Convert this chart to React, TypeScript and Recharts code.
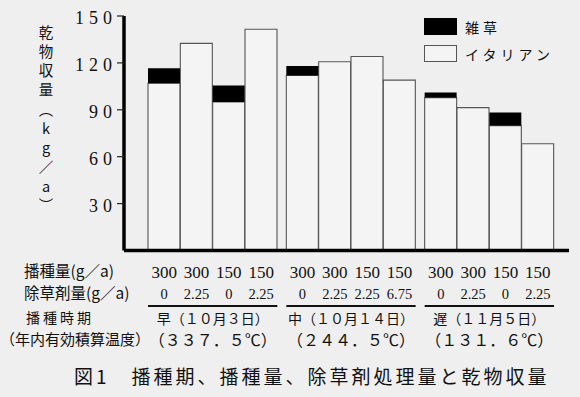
import React from 'react';
import { BarChart, Bar, XAxis, YAxis, Legend, Label } from 'recharts';

// ---- data ----
const seedingRate = ['300', '300', '150', '150', '300', '300', '150', '150', '300', '300', '150', '150'];
const herbicide = ['0', '2.25', '0', '2.25', '0', '2.25', '2.25', '6.75', '0', '2.25', '0', '2.25'];
const groupOf = [0, 0, 0, 0, 1, 1, 1, 1, 2, 2, 2, 2];
const groupLabels = ['早（１０月３日）', '中（１０月１４日）', '遅（１１月５日）'];
const groupTemps = ['（３３７．５℃）', '（２４４．５℃）', '（１３１．６℃）'];
const italian = [107, 132.5, 95, 141.5, 112, 120.7, 124.1, 109, 97.8, 91.4, 79.9, 68.3];
const weeds = [9.5, 0, 10.5, 0, 6, 0, 0, 0, 3.2, 0, 8.3, 0];
const yTicks = [30, 60, 90, 120, 150];
const seriesNames = { italian: 'イタリアン', weed: '雑草' };

// ---- layout constants ----
const W = 580;
const H = 397;
const PLOT_LEFT = 124;
const PLOT_RIGHT = 569;
const PLOT_TOP = 16;
const PLOT_BOTTOM = 250.5;
const GAP = 0.278; // gap between groups, in bar widths
const X_MIN = -1.242;
const X_MAX = 12.52;
const UNIT_PX = (PLOT_RIGHT - PLOT_LEFT) / (X_MAX - X_MIN);

const barPos = seedingRate.map((_, i) => i + groupOf[i] * GAP);
const groupCenters = groupLabels.map((_, g) => {
  const ps = barPos.filter((_, i) => groupOf[i] === g);
  return (ps[0] + ps[ps.length - 1]) / 2;
});

const data = seedingRate.map((s, i) => ({
  pos: barPos[i],
  italian: italian[i],
  weed: weeds[i],
}));

const JP = '"Noto Sans CJK JP", "Noto Sans", sans-serif';
const SERIF = '"Liberation Serif", "DejaVu Serif", serif';

const findIdx = (arr: number[], v: number) => arr.findIndex((a) => Math.abs(a - v) < 1e-6);

const XTick = (props: any) => {
  const { x, payload } = props;
  const v = payload.value;
  const bi = findIdx(barPos, v);
  if (bi >= 0) {
    return (
      <g>
        <text x={x} y={272} textAnchor="middle" dominantBaseline="central" fontFamily={SERIF} fontSize={17} fill="#111">
          {seedingRate[bi]}
        </text>
        <text x={x} y={294} textAnchor="middle" dominantBaseline="central" fontFamily={SERIF} fontSize={14.5} fill="#111">
          {herbicide[bi]}
        </text>
      </g>
    );
  }
  const gi = findIdx(groupCenters, v);
  if (gi >= 0) {
    return (
      <g>
        <line x1={x - 2 * UNIT_PX} x2={x + 2 * UNIT_PX} y1={306} y2={306} stroke="#111" strokeWidth={2} />
        <text x={x} y={318} textAnchor="middle" dominantBaseline="central" fontFamily={JP} fontSize={14} fill="#111">
          {groupLabels[gi]}
        </text>
        <text x={x} y={339} textAnchor="middle" dominantBaseline="central" fontFamily={JP} fontSize={16} fill="#111">
          {groupTemps[gi]}
        </text>
      </g>
    );
  }
  return null;
};

const YTick = (props: any) => {
  const { x, y, payload } = props;
  return (
    <text x={x + 2} y={y + 2} textAnchor="end" dominantBaseline="central" fontFamily={SERIF} fontSize={18} letterSpacing={5} fill="#111">
      {payload.value}
    </text>
  );
};

const yLabelChars = ['乾', '物', '収', '量', '︵', 'k', 'g', '／', 'a', '︶'];
const YLabel = () => (
  <g>
    {yLabelChars.map((c, i) => (
      <text key={i} x={46} y={31 + i * 19.3} textAnchor="middle" dominantBaseline="central" fontFamily={JP} fontSize={14.5} fill="#111">
        {c}
      </text>
    ))}
  </g>
);

const LegendContent = (props: any) => {
  const items = [...(props.payload || [])].reverse();
  return (
    <div>
      {items.map((it: any, i: number) => (
        <div key={i} style={{ display: 'flex', alignItems: 'center', height: 27 }}>
          <div
            style={{
              width: 33,
              height: 17,
              boxSizing: 'border-box',
              background: it.payload.fill,
              border: '1.2px solid ' + (it.payload.fill === '#000000' ? '#000' : '#555'),
            }}
          />
          <span style={{ marginLeft: 8, fontFamily: JP, fontSize: 14, letterSpacing: 4, color: '#111' }}>{it.value}</span>
        </div>
      ))}
    </div>
  );
};

const rowLabel = (text: string, left: number, cy: number, size: number, spacing = 0) => (
  <div
    style={{
      position: 'absolute',
      left,
      top: cy - size / 2 - 1,
      fontFamily: JP,
      fontSize: size,
      lineHeight: 1,
      letterSpacing: spacing,
      color: '#111',
      whiteSpace: 'nowrap',
    }}
  >
    {text}
  </div>
);

export default function App() {
  return (
    <div style={{ position: 'absolute', left: 0, top: 0, width: W, height: H, background: '#efefef' }}>
      <BarChart
        width={W}
        height={H}
        data={data}
        margin={{ top: PLOT_TOP, right: W - PLOT_RIGHT, left: 0, bottom: 7 }}
        barCategoryGap={0}
        barGap={0}
      >
        <XAxis
          dataKey="pos"
          type="number"
          domain={[X_MIN, X_MAX]}
          allowDataOverflow
          ticks={[...barPos, ...groupCenters]}
          interval={0}
          tick={<XTick />}
          tickLine={false}
          axisLine={{ stroke: '#000', strokeWidth: 3.5 }}
          height={H - PLOT_BOTTOM - 7}
        />
        <YAxis
          type="number"
          domain={[0, 150]}
          ticks={yTicks}
          width={PLOT_LEFT}
          tickSize={7}
          tick={<YTick />}
          tickLine={{ stroke: '#222', strokeWidth: 1.2 }}
          axisLine={{ stroke: '#000', strokeWidth: 3.5 }}
        >
          <Label content={<YLabel />} />
        </YAxis>
        <Legend
          layout="vertical"
          align="center"
          verticalAlign="middle"
          content={<LegendContent />}
          wrapperStyle={{ left: 424, top: 13, width: 'auto', height: 'auto' }}
        />
        <Bar dataKey="italian" name={seriesNames.italian} stackId="a" fill="#f4f4f4" stroke="#555" strokeWidth={1.1} isAnimationActive={false} />
        <Bar dataKey="weed" name={seriesNames.weed} stackId="a" fill="#000000" isAnimationActive={false} />
      </BarChart>
      {rowLabel('播種量(g／a)', 24, 272, 15.5)}
      {rowLabel('除草剤量(g／a)', 24, 294, 15.5)}
      {rowLabel('播種時期', 26, 318, 14, 3)}
      {rowLabel('（年内有効積算温度）', 0, 339, 15)}
      {rowLabel('図1　播種期、播種量、除草剤処理量と乾物収量', 74, 376, 19, 3)}
    </div>
  );
}
